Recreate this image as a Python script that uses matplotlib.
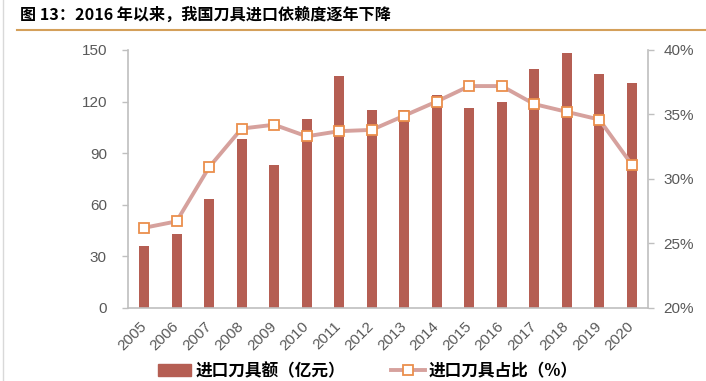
import matplotlib.pyplot as plt
import numpy as np
from matplotlib.lines import Line2D

years = ['2005', '2006', '2007', '2008', '2009', '2010', '2011', '2012',
         '2013', '2014', '2015', '2016', '2017', '2018', '2019', '2020']
import_value = [36, 43, 63, 98, 83, 110, 135, 115, 115, 124, 116, 120, 139, 148, 136, 131]
import_share = [26.2, 26.7, 30.9, 33.9, 34.2, 33.3, 33.7, 33.8, 34.9, 36.0, 37.2, 37.2,
                35.8, 35.2, 34.6, 31.1]

plt.rcParams['font.family'] = ['Liberation Sans', 'Noto Sans CJK SC', 'DejaVu Sans']

bar_color = '#B55E53'
line_color = '#D6A19D'
marker_edge = '#EB8F4C'
grey = '#BFBFBF'
text_grey = '#595959'
cjk = ['Noto Sans CJK SC', 'DejaVu Sans']

fig = plt.figure(figsize=(7.06, 3.81), dpi=100)
ax = fig.add_axes([0.181, 0.1924, 0.737, 0.6764])
ax2 = ax.twinx()

x = np.arange(len(years))
ax.bar(x, import_value, width=0.31, color=bar_color, zorder=2)
ax2.plot(x, import_share, color=line_color, lw=2.8, marker='s', markersize=7,
         markerfacecolor='white', markeredgecolor=marker_edge, markeredgewidth=1.3, zorder=3)

ax.set_xlim(-0.5, len(years) - 0.5)
ax.set_ylim(0, 150)
ax.set_yticks([0, 30, 60, 90, 120, 150])
ax2.set_ylim(20, 40)
ax2.set_yticks([20, 25, 30, 35, 40])
ax2.set_yticklabels([f'{v}%' for v in [20, 25, 30, 35, 40]])

ax.set_xticks(x)
ax.set_xticklabels(years, rotation=45, ha='right', va='center', rotation_mode='anchor')

for a in (ax, ax2):
    for s in a.spines.values():
        s.set_visible(False)
    a.tick_params(colors=grey, labelcolor=text_grey, labelsize=11, length=4, width=1)
ax.tick_params(axis='y', pad=11)
ax2.tick_params(axis='y', pad=7)
ax.tick_params(axis='x', length=0, pad=12)
ax.spines['left'].set_visible(True)
ax.spines['bottom'].set_visible(True)
ax2.spines['right'].set_visible(True)
for s in (ax.spines['left'], ax.spines['bottom'], ax2.spines['right']):
    s.set_color(grey)
    s.set_linewidth(1.2)

# 标题和下方的分隔线
fig.text(0.028, 0.961, '图 13：2016 年以来，我国刀具进口依赖度逐年下降',
         fontsize=11.6, fontweight='bold', color='black', va='center', family=cjk)
fig.add_artist(Line2D([0.024, 1.0], [0.921, 0.921], color='#D4A05A', lw=1.5))
fig.add_artist(Line2D([0.004, 0.004], [0.0, 1.0], color='#D9D9D9', lw=1))

handles = [plt.Rectangle((0, 0), 1, 1, color=bar_color),
           Line2D([], [], color=line_color, lw=2.8, marker='s', markersize=7,
                  markerfacecolor='white', markeredgecolor=marker_edge, markeredgewidth=1.3)]
fig.legend(handles, ['进口刀具额（亿元）', '进口刀具占比（%）'], loc='center',
           bbox_to_anchor=(0.521, 0.026), ncol=2, frameon=False, columnspacing=2.8,
           handlelength=2.0, handletextpad=0.25,
           prop={'family': cjk, 'size': 12, 'weight': 'bold'})

fig.savefig('out.png', dpi=100)
